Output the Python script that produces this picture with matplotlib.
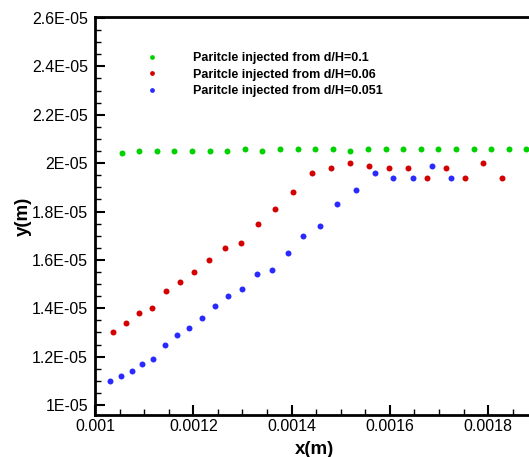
import numpy as np
import matplotlib.pyplot as plt
from matplotlib.ticker import MultipleLocator

# particle positions
x_01 = [0.001054, 0.001090, 0.001126, 0.0011615, 0.001197, 0.0012335, 0.001269,
        0.001305, 0.0013405, 0.001377, 0.0014125, 0.001448, 0.001484, 0.0015195,
        0.001556, 0.0015915, 0.001627, 0.0016635, 0.001699, 0.001735, 0.0017705,
        0.001806, 0.0018425, 0.001878]
y_01 = [2.04e-5, 2.05e-5, 2.05e-5, 2.05e-5, 2.05e-5, 2.05e-5, 2.05e-5, 2.06e-5,
        2.05e-5, 2.06e-5, 2.06e-5, 2.06e-5, 2.06e-5, 2.05e-5, 2.06e-5, 2.06e-5,
        2.06e-5, 2.06e-5, 2.06e-5, 2.06e-5, 2.06e-5, 2.06e-5, 2.06e-5, 2.06e-5]

x_006 = [0.0010374, 0.0010628, 0.0010895, 0.0011163, 0.0011436, 0.0011724,
         0.0012021, 0.0012329, 0.0012644, 0.0012973, 0.0013309, 0.0013663,
         0.0014029, 0.0014407, 0.0014805, 0.0015195, 0.0015586, 0.0015992,
         0.0016374, 0.0016759, 0.0017144, 0.0017527, 0.0017905, 0.0018288]
y_006 = [1.30e-5, 1.34e-5, 1.38e-5, 1.40e-5, 1.47e-5, 1.51e-5, 1.55e-5, 1.60e-5,
         1.65e-5, 1.67e-5, 1.75e-5, 1.81e-5, 1.88e-5, 1.96e-5, 1.98e-5, 2.00e-5,
         1.99e-5, 1.98e-5, 1.98e-5, 1.94e-5, 1.98e-5, 1.94e-5, 2.00e-5, 1.94e-5]

x_0051 = [0.0010313, 0.0010525, 0.0010745, 0.0010963, 0.0011189, 0.0011424,
          0.0011663, 0.0011909, 0.0012171, 0.0012438, 0.0012712, 0.0013000,
          0.0013296, 0.0013605, 0.0013920, 0.0014235, 0.0014578, 0.0014934,
          0.0015305, 0.0015689, 0.0016074, 0.0016471, 0.0016862, 0.0017247]
y_0051 = [1.10e-5, 1.12e-5, 1.14e-5, 1.17e-5, 1.19e-5, 1.25e-5, 1.29e-5, 1.32e-5,
          1.36e-5, 1.41e-5, 1.45e-5, 1.48e-5, 1.54e-5, 1.56e-5, 1.63e-5, 1.70e-5,
          1.74e-5, 1.83e-5, 1.89e-5, 1.96e-5, 1.94e-5, 1.94e-5, 1.99e-5, 1.94e-5]

labels = ["Paritcle injected from d/H=0.1",
          "Paritcle injected from d/H=0.06",
          "Paritcle injected from d/H=0.051"]
colors = ["#00d200", "#d20000", "#2a2aff"]

plt.rcParams['font.family'] = ['Liberation Sans', 'DejaVu Sans']

fig = plt.figure(figsize=(5.29, 4.57), dpi=100)
ax = fig.add_axes([95/529, 42/457, 1 - 95/529 + 0.01, (415-17)/457])

for xs, ys, lab, c in zip([x_01, x_006, x_0051], [y_01, y_006, y_0051], labels, colors):
    ax.plot(xs, ys, 'o', ms=4.3, color=c, mec='none', label=lab)

ax.set_xlim(0.001, 0.001894)
ax.set_ylim(0.959e-5, 2.604e-5)

ax.xaxis.set_minor_locator(MultipleLocator(0.00005))
ax.yaxis.set_minor_locator(MultipleLocator(0.05e-5))

ax.set_xticks([0.001, 0.0012, 0.0014, 0.0016, 0.0018])
ax.set_xticklabels(["0.001", "0.0012", "0.0014", "0.0016", "0.0018"])
yt = [1.0e-5, 1.2e-5, 1.4e-5, 1.6e-5, 1.8e-5, 2.0e-5, 2.2e-5, 2.4e-5, 2.6e-5]
ax.set_yticks(yt)
ax.set_yticklabels(["1E-05", "1.2E-05", "1.4E-05", "1.6E-05", "1.8E-05",
                    "2E-05", "2.2E-05", "2.4E-05", "2.6E-05"])

ax.tick_params(which='both', direction='in', top=False, right=False, labelsize=11.5,
               width=1.5)
ax.tick_params(which='major', length=7)
ax.tick_params(which='minor', length=4, width=1)
ax.tick_params(axis='x', pad=3)
ax.tick_params(axis='y', pad=5)

for s in ax.spines.values():
    s.set_linewidth(2)

ax.set_xlabel("x(m)", fontsize=13.5, fontweight='bold', labelpad=5)
ax.set_ylabel("y(m)", fontsize=13.5, fontweight='bold', labelpad=0)

leg = ax.legend(loc='upper left', bbox_to_anchor=(0.075, 0.94), frameon=False,
                prop={'size': 9, 'weight': 'bold'}, handletextpad=2.3,
                labelspacing=0.35, markerscale=0.8)

fig.savefig("out.png", dpi=100)
